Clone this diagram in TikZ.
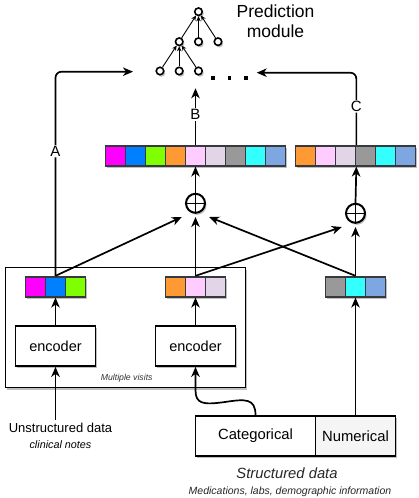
\documentclass[tikz,border=0pt]{standalone}
\usepackage{fontspec}
\setmainfont{Liberation Sans}
\usetikzlibrary{arrows.meta,shadows,calc}
\definecolor{cmag}{HTML}{FF00FF}
\definecolor{cblu}{HTML}{007FFF}
\definecolor{cgrn}{HTML}{80FF00}
\definecolor{corg}{HTML}{FF9933}
\definecolor{cpnk}{HTML}{FFCCFF}
\definecolor{clav}{HTML}{E1D5E7}
\definecolor{cgry}{HTML}{999999}
\definecolor{ccya}{HTML}{33FFFF}
\definecolor{csky}{HTML}{7EA6E0}
\definecolor{cdark}{HTML}{36393D}
\definecolor{cnum}{HTML}{F5F5F5}
\tikzset{
  shadowed/.style={drop shadow={shadow xshift=1.5pt,shadow yshift=-2pt,opacity=0.25,fill=black}},
  arr/.style={line width=1.7pt,-{Stealth[length=10pt,width=8.5pt,inset=3pt]}},
  tarr/.style={line width=0.9pt,-{Stealth[length=5pt,width=4.5pt,inset=1.5pt]}},
  cellbox/.style={draw=cdark,line width=1.7pt,minimum size=20pt,inner sep=0pt,shadowed},
  tnode/.style={circle,draw,line width=1.6pt,fill=white,minimum size=7.5pt,inner sep=0pt,shadowed},
  dotbox/.style={fill=black,minimum width=3.3pt,minimum height=3.8pt,inner sep=0pt},
  obox/.style={draw=none,minimum size=27pt,inner sep=0pt},
  ocirc/.style={circle,draw,line width=2pt,fill=white,minimum size=19pt,inner sep=0pt,shadowed,
    path picture={\draw[line width=1.5pt] (path picture bounding box.north) -- (path picture bounding box.south)
      (path picture bounding box.west) -- (path picture bounding box.east);}},
  boxnode/.style={draw,line width=1.7pt,fill=white,inner sep=0pt,shadowed},
  lbl/.style={fill=white,inner sep=1pt,font=\fontsize{15}{17}\selectfont},
}
\begin{document}
\begin{tikzpicture}[x=1pt,y=-1pt]
\useasboundingbox (0,0) rectangle (419,498);
% multiple visits box
\node[boxnode,minimum width=240pt,minimum height=120pt] (visits) at (125.5,327.5) {};
\node[font=\fontsize{8.7}{10}\selectfont\itshape,text=black!80] (mvis) at (126.7,378.3) {Multiple visits};
% encoders
\node[boxnode,minimum width=80pt,minimum height=40pt,font=\fontsize{14.5}{16}\selectfont] (e1) at (55.5,346) {encoder};
\node[boxnode,minimum width=80pt,minimum height=40pt,font=\fontsize{14.5}{16}\selectfont] (e2) at (195.5,346) {encoder};
% structured data boxes
\node[boxnode,minimum width=120pt,minimum height=40pt,font=\fontsize{14.8}{16}\selectfont] (cat) at (255.5,436) {Categorical};
\node[boxnode,fill=cnum,minimum width=80pt,minimum height=40pt,font=\fontsize{14.8}{16}\selectfont] (num) at (355.5,436) {Numerical};
% texts
\node[font=\fontsize{13}{15}\selectfont] (unst) at (60.5,428.3) {Unstructured data};
\node[font=\fontsize{10.8}{12}\selectfont\itshape] (unst2) at (60.5,445) {clinical notes};
\node[font=\fontsize{14.8}{16}\selectfont\itshape,text=black!85] (sd) at (287,473.3) {Structured data};
\node[font=\fontsize{10.5}{12}\selectfont\itshape,text=black!85] (sd2) at (290,491.7) {Medications, labs, demographic information};
\node[align=center,font=\fontsize{17.5}{20}\selectfont] (pred) at (275.5,21.7) {Prediction\\module};
% small vectors
\foreach \c [count=\i] in {cmag,cblu,cgrn} {\node[cellbox,fill=\c] (s\i) at ({15.5+20*\i},286.7) {};}
\foreach \c [count=\i] in {corg,cpnk,clav} {\node[cellbox,fill=\c] (m\i) at ({155.5+20*\i},286.7) {};}
\foreach \c [count=\i] in {cgry,ccya,csky} {\node[cellbox,fill=\c] (n\i) at ({315.5+20*\i},286.7) {};}
% big vectors
\foreach \c [count=\i] in {cmag,cblu,cgrn,corg,cpnk,clav,cgry,ccya,csky} {\node[cellbox,fill=\c] (b\i) at ({95.5+20*\i},155.7) {};}
\foreach \c [count=\i] in {corg,cpnk,clav,cgry,ccya,csky} {\node[cellbox,fill=\c] (r\i) at ({285.5+20*\i},155.7) {};}
% oplus
\node[obox] (o1) at (195.5,203.3) {};
\node[ocirc] (o1c) at (o1) {};
\node[obox] (o2) at (355.5,213.3) {};
\node[ocirc] (o2c) at (o2) {};
% tree
\node[tnode] (t1) at (198.5,11.7) {};
\node[tnode] (t21) at (179.2,41.7) {};
\node[tnode] (t22) at (198.5,41.7) {};
\node[tnode] (t23) at (218,41.7) {};
\node[tnode] (t31) at (160,71) {};
\node[tnode] (t32) at (179.2,71) {};
\node[tnode] (t33) at (198.5,71) {};
\draw[tarr] (t21) -- (t1);
\draw[tarr] (t22) -- (t1);
\draw[tarr] (t23) -- (t1);
\draw[tarr] (t31) -- (t21);
\draw[tarr] (t32) -- (t21);
\draw[tarr] (t33) -- (t21);
\node[dotbox] (d1) at (213,77.7) {};
\node[dotbox] (d2) at (229.5,77.7) {};
\node[dotbox] (d3) at (246,77.7) {};
\coordinate (inA) at (133,71.7);
\coordinate (inB) at (195.5,88.3);
\coordinate (inC) at (256.7,72.7);
% connectors
\draw[arr] (e1.south |- unst.north) -- (e1.south);
\draw[arr] (cat.north) .. controls (255.5,398) and (245,399) .. (225,402) .. controls (203,405) and (195.5,404) .. (195.5,390) -- (e2.south);
\draw[arr] (num.north) -- (n2.south);
\draw[arr] (e1.north) -- (s2.south);
\draw[arr] (e2.north) -- (m2.south);
\draw[arr] (s2.north) -- (o1.south west);
\draw[arr] (m2.north) -- (o1.south);
\draw[arr] (m2.north) -- (o2.south west);
\draw[arr] (n2.north) -- (o1.south east);
\draw[arr] (n2.north) -- (o2.south);
\draw[arr] (o1c.north) -- (b5.south);
\draw[arr] (o2c.north) -- (r3.south east);
\draw[arr,rounded corners=6pt] (s2.north) |- node[lbl,pos=0.305] {A} (inA);
\draw[arr] (b5.north) -- node[lbl,pos=0.535] {B} (inB);
\draw[arr,rounded corners=6pt] (r3.north east) |- node[lbl,pos=0.267] {C} (inC);
\end{tikzpicture}
\end{document}
